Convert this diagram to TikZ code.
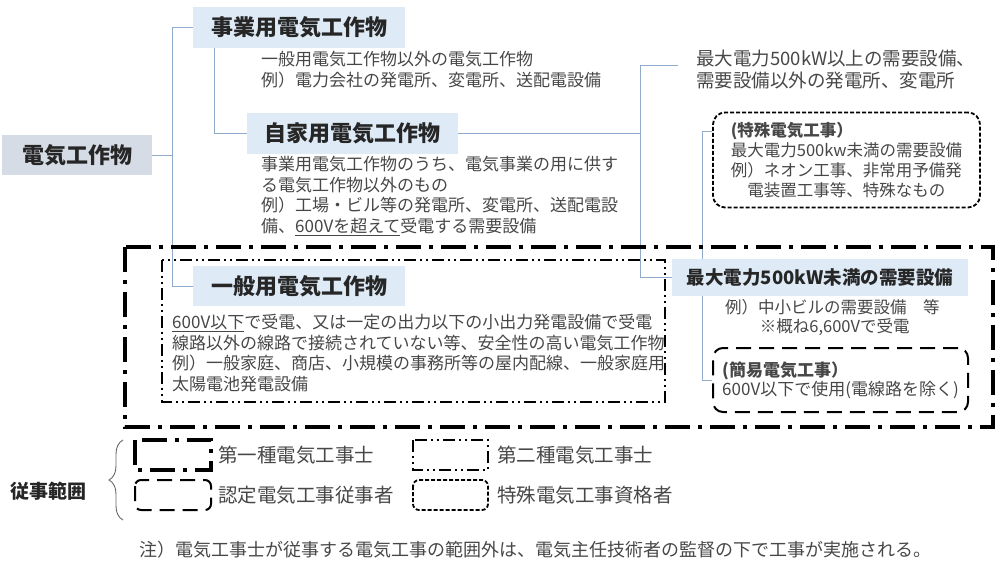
\documentclass[tikz,border=0pt]{standalone}
\usepackage{fontspec}
\setmainfont{Noto Sans CJK JP}
\usepackage{xcolor}
\usepackage{tikz}
\usetikzlibrary{positioning}
\usetikzlibrary{decorations.pathreplacing,backgrounds}
\definecolor{rootfill}{HTML}{D6DCE5}
\definecolor{headfill}{HTML}{DEEBF7}
\definecolor{linkcol}{HTML}{8FAACB}
\definecolor{bodytext}{HTML}{474747}
\definecolor{headtext}{HTML}{262626}
\tikzstyle{headbox} = [fill=headfill, text=headtext, font=\bfseries\fontsize{22}{26}\selectfont, inner sep=0pt, minimum width=212pt, minimum height=41pt]
\tikzstyle{rootbox} = [headbox, fill=rootfill, minimum width=150pt, minimum height=40pt]
\tikzstyle{desctext} = [anchor=north west, inner sep=0pt, align=left, text=bodytext, font=\fontsize{17}{20.5}\selectfont]
\tikzstyle{linkline} = [linkcol, line width=1pt]
\tikzstyle{kindone} = [line width=3.5pt, dash pattern=on 25pt off 8pt on 4pt off 8pt]
\tikzstyle{kindtwo} = [line width=1.4pt, dash pattern=on 12pt off 4pt on 2pt off 4pt on 2pt off 4pt]
\tikzstyle{ninteibox} = [draw=black, line width=2pt, dash pattern=on 15pt off 8pt, rounded corners=10pt]
\tikzstyle{tokushubox} = [draw=black, line width=1.8pt, dash pattern=on 4pt off 2pt, rounded corners=12pt]
\tikzstyle{legendtext} = [anchor=west, inner sep=0pt, text=bodytext, font=\fontsize{19.5}{22}\selectfont]

\begin{document}
\begin{tikzpicture}[x=1pt,y=-1pt]
      \useasboundingbox (0,0) rectangle (1000,573);
      %%%%%%%%%%%%%%%%%%%%%%%%%%%%%%%%%%%%%%%
      % frames of the work ranges
      \draw[kindone] (125,247) rectangle (993,427);
      \draw[kindtwo] (162,260) rectangle (665,402);
      %%%%%%%%%%%%%%%%%%%%%%%%%%%%%%%%%%%%%%%
      \draw (77,155) node (root) [rootbox] {電気工作物};
      \draw (299,27.5) node (jigyo) [headbox] {事業用電気工作物};
      \draw (352.5,133.5) node (jika) [headbox, minimum width=211pt] {自家用電気工作物};
      \draw (299,286) node (ippan) [headbox, minimum height=40pt] {一般用電気工作物};
      \draw (820,277.5) node (miman) [headbox, minimum width=296pt, minimum height=37pt, font=\bfseries\fontsize{18.5}{22}\selectfont] {最大電力500kW未満の需要設備};
      %
      \node (jigyodesc) [desctext] at (261,51) {一般用電気工作物以外の電気工作物\\例）電力会社の発電所、変電所、送配電設備};
      \node (jikadesc) [desctext] at (261,156) {事業用電気工作物のうち、電気事業の用に供す\\る電気工作物以外のもの\\例）工場・ビル等の発電所、変電所、送配電設\\備、\underline{600Vを超えて}受電する需要設備};
      \node (ippandesc) [desctext] at (172,314) {\underline{600V以下}で受電、又は一定の出力以下の小出力発電設備で受電\\線路以外の線路で接続されていない等、安全性の高い電気工作物\\例）一般家庭、商店、小規模の事務所等の屋内配線、一般家庭用\\太陽電池発電設備};
      \node (joui) [desctext, font=\fontsize{18.5}{21.5}\selectfont] at (696,50) {最大電力500kW以上の需要設備、\\需要設備以外の発電所、変電所};
      \node (mimandesc) [desctext, font=\fontsize{16.5}{19.5}\selectfont] at (725,299) {例）中小ビルの需要設備　等\\\hspace*{2.1em}※概ね6,600Vで受電};
      %
      \draw (846.5,160) node (tokushu) [tokushubox, minimum width=267pt, minimum height=95pt, align=left, text=bodytext, font=\fontsize{16.5}{20}\selectfont] {\textbf{(特殊電気工事）}\\最大電力500kw未満の需要設備\\例）ネオン工事、非常用予備発\\\hspace*{1em}電装置工事等、特殊なもの};
      \draw (840.5,380) node (kani) [ninteibox, minimum width=255pt, minimum height=64pt, align=left, text=bodytext, font=\fontsize{17}{19}\selectfont] {\textbf{(簡易電気工事）}\\600V以下で使用(電線路を除く)};
      %%%%%%%%%%%%%%%%%%%%%%%%%%%%%%%%%%%%%%%
      \begin{scope}[on background layer]
      \draw[linkline] (root.east) -- ++(20,0) coordinate (trunk);
      \draw[linkline] (jigyo.west) -| (trunk) |- (ippan.west);
      \draw[linkline] ([xshift=22pt]jigyo.south west) |- (jika.west);
      \draw[linkline] (jika.east) -- ++(182,0) coordinate (branch);
      \draw[linkline] ([xshift=-18pt,yshift=4pt]joui.west) -| (branch) |- (miman.west);
      \draw[linkline] ([yshift=-20pt]tokushu.north west) -- ++(-10,0) |- (kani.west);
      \end{scope}
      %%%%%%%%%%%%%%%%%%%%%%%%%%%%%%%%%%%%%%%
      % legend
      \node (scope) [inner sep=0pt, text=headtext, font=\bfseries\fontsize{19}{22}\selectfont] at (48,491) {従事範囲};
      \coordinate (bracetop) at (123,440);
      \coordinate (bracebot) at (123,520);
      \draw[decorate, decoration={brace, amplitude=14pt}, draw=black!60, line width=0.9pt] (bracebot) -- (bracetop);
      \draw[kindone] (135,440) rectangle (211,470);
      \draw[kindtwo] (413,440) rectangle (488,470);
      \draw[ninteibox, rounded corners=6pt] (135,480) rectangle (211,510);
      \draw[tokushubox, rounded corners=6pt] (413,480) rectangle (488,510);
      \node (first) [legendtext] at (218,455) {第一種電気工事士};
      \node (second) [legendtext] at (497,455) {第二種電気工事士};
      \node (nintei) [legendtext] at (218,495) {認定電気工事従事者};
      \node (special) [legendtext] at (497,495) {特殊電気工事資格者};
      %
      \node (note) [legendtext, font=\fontsize{18}{22}\selectfont] at (139,550) {注）電気工事士が従事する電気工事の範囲外は、電気主任技術者の監督の下で工事が実施される。};
\end{tikzpicture}
\end{document}
